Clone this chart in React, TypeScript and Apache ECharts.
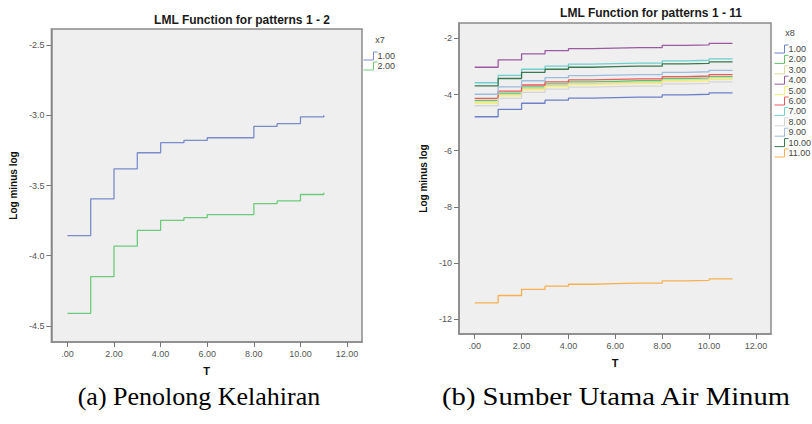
import React, { useEffect, useRef } from "react";
import * as echarts from "echarts";

// ---------- data ----------
const tValues = [0, 1, 2, 3, 4, 5, 6, 7, 8, 9, 10, 11];
const xTicks = [0, 2, 4, 6, 8, 10, 12];
const leftYTicks = [-4.5, -4.0, -3.5, -3.0, -2.5];
const rightYTicks = [-12, -10, -8, -6, -4, -2];

const leftTitle = "LML Function for patterns 1 - 2";
const rightTitle = "LML Function for patterns 1 - 11";
const leftLegendTitle = "x7";
const rightLegendTitle = "x8";
const leftCaption = "(a) Penolong Kelahiran";
const rightCaption = "(b) Sumber Utama Air Minum";
const yName = "Log minus log";
const xName = "T";

const leftNames = ["1.00", "2.00"];
const x7_1 = [-3.857, -3.595, -3.381, -3.267, -3.195, -3.179, -3.16, -3.16, -3.079, -3.059, -3.012, -3.0];
const x7_2 = [-4.41, -4.148, -3.931, -3.819, -3.748, -3.729, -3.707, -3.707, -3.629, -3.61, -3.564, -3.552];
const leftColors = ["#7a8ccc", "#6ccc7a"];

const rightNames = ["1.00", "2.00", "3.00", "4.00", "5.00", "6.00", "7.00", "8.00", "9.00", "10.00", "11.00"];
const x8_1 = [-4.79, -4.53, -4.31, -4.2, -4.13, -4.11, -4.09, -4.09, -4.01, -3.99, -3.94, -3.93];
const x8_2 = [-4.21, -3.95, -3.73, -3.62, -3.55, -3.53, -3.51, -3.51, -3.43, -3.41, -3.36, -3.35];
const x8_3 = [-4.26, -4.0, -3.78, -3.67, -3.6, -3.58, -3.56, -3.56, -3.48, -3.46, -3.41, -3.4];
const x8_4 = [-3.03, -2.77, -2.55, -2.44, -2.37, -2.35, -2.33, -2.33, -2.25, -2.23, -2.18, -2.17];
const x8_5 = [-4.31, -4.05, -3.83, -3.72, -3.65, -3.63, -3.61, -3.61, -3.53, -3.51, -3.46, -3.45];
const x8_6 = [-4.14, -3.88, -3.66, -3.55, -3.48, -3.46, -3.44, -3.44, -3.36, -3.34, -3.29, -3.28];
const x8_7 = [-3.58, -3.32, -3.1, -2.99, -2.92, -2.9, -2.88, -2.88, -2.8, -2.78, -2.73, -2.72];
const x8_8 = [-4.4, -4.14, -3.92, -3.81, -3.74, -3.72, -3.7, -3.7, -3.62, -3.6, -3.55, -3.54];
const x8_9 = [-3.99, -3.73, -3.51, -3.4, -3.33, -3.31, -3.29, -3.29, -3.21, -3.19, -3.14, -3.13];
const x8_10 = [-3.69, -3.43, -3.21, -3.1, -3.03, -3.01, -2.99, -2.99, -2.91, -2.89, -2.84, -2.83];
const x8_11 = [-11.41, -11.15, -10.93, -10.82, -10.75, -10.73, -10.71, -10.71, -10.63, -10.61, -10.56, -10.55];
const rightSeries = [x8_1, x8_2, x8_3, x8_4, x8_5, x8_6, x8_7, x8_8, x8_9, x8_10, x8_11];
const rightColors = [
  "#6d80c8", "#5cc46a", "#dcd8a8", "#9a5aa0", "#f6ee7a", "#ec5a5a",
  "#70d0d0", "#d6d6d6", "#9cbce0", "#3a7a52", "#f8b050",
];

// ---------- styling ----------
const SANS = "'Liberation Sans', Arial, sans-serif";
const SERIF = "'Liberation Serif', 'Times New Roman', serif";
const STEP_ICON = "path://M0,8L10,8L10,0L14,0";

type Layout = {
  grid: { left: number; top: number; width: number; height: number };
  xMin: number;
  xMax: number;
  yMin: number;
  yMax: number;
  yTicks: number[];
  yDecimals: number;
  titleX: number;
  titleY: number;
  legendTitleX: number;
  legendTitleY: number;
  legendLeft: number;
  legendTop: number;
  legendGap: number;
  captionX: number;
  captionY: number;
  captionScaleX: number;
  yNameGap: number;
  xNameGap: number;
};

function buildOption(
  layout: Layout,
  names: string[],
  seriesData: number[][],
  colors: string[],
  title: string,
  legendTitle: string,
  caption: string
) {
  return {
    animation: false,
    grid: {
      ...layout.grid,
      containLabel: false,
      show: true,
      backgroundColor: "#efefef",
      borderColor: "#8a8a8a",
      borderWidth: 1.5,
    },
    xAxis: {
      type: "value",
      min: layout.xMin,
      max: layout.xMax,
      name: xName,
      nameLocation: "middle",
      nameGap: layout.xNameGap,
      nameTextStyle: { fontFamily: SANS, fontSize: 11, fontWeight: "bold", color: "#111" },
      axisLine: { show: true, onZero: false, lineStyle: { color: "#8a8a8a", width: 1.5 } },
      axisTick: { show: true, length: 5, customValues: xTicks, lineStyle: { color: "#777", width: 1 } },
      axisLabel: {
        fontFamily: SANS,
        fontSize: 9,
        color: "#555",
        margin: 7,
        customValues: xTicks,
        formatter: (v: number) => (v === 0 ? ".00" : v.toFixed(2)),
      },
      splitLine: { show: false },
    },
    yAxis: {
      type: "value",
      min: layout.yMin,
      max: layout.yMax,
      name: yName,
      nameLocation: "middle",
      nameRotate: 90,
      nameGap: layout.yNameGap,
      nameTextStyle: { fontFamily: SANS, fontSize: 10, fontWeight: "bold", color: "#111" },
      axisLine: { show: true, onZero: false, lineStyle: { color: "#8a8a8a", width: 1.5 } },
      axisTick: { show: true, length: 5, customValues: layout.yTicks, lineStyle: { color: "#777", width: 1 } },
      axisLabel: {
        fontFamily: SANS,
        fontSize: 9,
        color: "#555",
        margin: 7,
        customValues: layout.yTicks,
        formatter: (v: number) => v.toFixed(layout.yDecimals),
      },
      splitLine: { show: false },
    },
    legend: {
      orient: "vertical",
      left: layout.legendLeft,
      top: layout.legendTop,
      padding: 0,
      itemWidth: 14,
      itemHeight: 8,
      itemGap: layout.legendGap,
      selectedMode: false,
      icon: STEP_ICON,
      textStyle: { fontFamily: SANS, fontSize: 9, color: "#444", lineHeight: 10, padding: [0, 0, 0, -5] },
      data: names.map((n, i) => ({
        name: n,
        icon: STEP_ICON,
        itemStyle: { color: "rgba(0,0,0,0)", borderColor: colors[i], borderWidth: 1 },
      })),
    },
    graphic: [
      {
        type: "text",
        x: layout.titleX,
        y: layout.titleY,
        style: {
          text: title,
          fontFamily: SANS,
          fontSize: 12,
          fontWeight: "bold",
          fill: "#1a1a1a",
          align: "center",
          verticalAlign: "middle",
        },
      },
      {
        type: "text",
        x: layout.legendTitleX,
        y: layout.legendTitleY,
        style: {
          text: legendTitle,
          fontFamily: SANS,
          fontSize: 9,
          fill: "#444",
          align: "center",
          verticalAlign: "middle",
        },
      },
      {
        type: "text",
        x: layout.captionX,
        y: layout.captionY,
        scaleX: layout.captionScaleX,
        style: {
          text: caption,
          fontFamily: SERIF,
          fontSize: 26,
          fill: "#000",
          align: "center",
          verticalAlign: "middle",
        },
      },
    ],
    series: names.map((n, i) => ({
      name: n,
      type: "line",
      step: "end",
      symbol: "none",
      showSymbol: false,
      color: colors[i],
      lineStyle: { color: colors[i], width: 1.3 },
      data: tValues.map((t, k) => [t, seriesData[i][k]]),
    })),
  };
}

const leftLayout: Layout = {
  grid: { left: 51, top: 29, width: 311, height: 313 },
  xMin: -0.686,
  xMax: 12.64,
  yMin: -4.614,
  yMax: -2.386,
  yTicks: leftYTicks,
  yDecimals: 1,
  titleX: 242,
  titleY: 20,
  legendTitleX: 380,
  legendTitleY: 40,
  legendLeft: 363,
  legendTop: 51,
  legendGap: 0,
  captionX: 199,
  captionY: 396,
  captionScaleX: 1,
  yNameGap: 28,
  xNameGap: 23,
};

const rightLayout: Layout = {
  grid: { left: 53, top: 23, width: 312, height: 311 },
  xMin: -0.67,
  xMax: 12.64,
  yMin: -12.52,
  yMax: -1.455,
  yTicks: rightYTicks,
  yDecimals: 0,
  titleX: 245,
  titleY: 13,
  legendTitleX: 384,
  legendTitleY: 33,
  legendLeft: 368,
  legendTop: 44,
  legendGap: 0.4,
  captionX: 210,
  captionY: 396,
  captionScaleX: 1.1,
  yNameGap: 26,
  xNameGap: 23,
};

function Chart({ option, left }: { option: any; left: number }) {
  const ref = useRef<HTMLDivElement>(null);
  useEffect(() => {
    if (!ref.current) return;
    const chart = echarts.init(ref.current, undefined, { renderer: "svg" });
    chart.setOption(option);
    return () => chart.dispose();
  }, [option]);
  return (
    <div
      ref={ref}
      style={{ position: "absolute", left, top: 0, width: 406, height: 424 }}
    />
  );
}

const leftOption = buildOption(leftLayout, leftNames, [x7_1, x7_2], leftColors, leftTitle, leftLegendTitle, leftCaption);
const rightOption = buildOption(rightLayout, rightNames, rightSeries, rightColors, rightTitle, rightLegendTitle, rightCaption);

export default function App() {
  return (
    <div style={{ position: "absolute", left: 0, top: 0, width: 812, height: 424, background: "#fff", overflow: "hidden" }}>
      <Chart option={leftOption} left={0} />
      <Chart option={rightOption} left={406} />
    </div>
  );
}
